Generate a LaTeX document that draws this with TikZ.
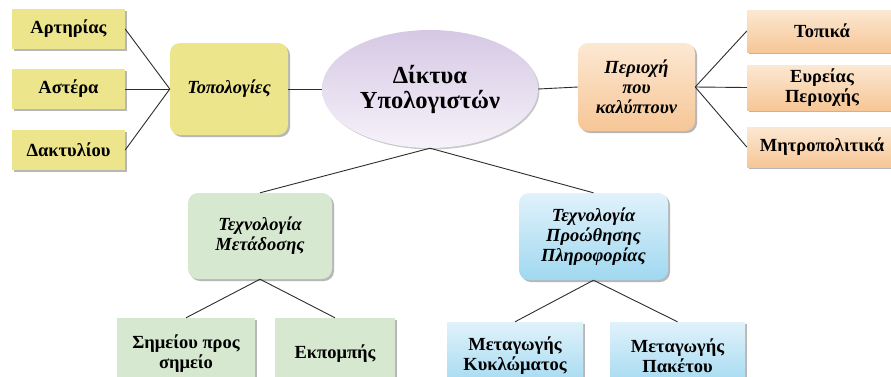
\documentclass[tikz,border=0pt]{standalone}
\usepackage{fontspec}
\setmainfont{Liberation Serif}
\usetikzlibrary{shapes.geometric,shadows}
\definecolor{yel}{RGB}{237,229,140}
\definecolor{lavtop}{RGB}{214,200,228}
\definecolor{lavbot}{RGB}{246,242,250}
\definecolor{peachtop}{RGB}{252,232,210}
\definecolor{peachbot}{RGB}{246,198,150}
\definecolor{grn}{RGB}{214,233,208}
\definecolor{bluetop}{RGB}{224,242,251}
\definecolor{bluebot}{RGB}{160,216,240}
\definecolor{linkgray}{RGB}{45,45,45}
\begin{document}
\begin{tikzpicture}[x=1pt,y=-1pt,
    box/.style={inner sep=0pt, align=center, font=\bfseries\fontsize{18.5}{20}\selectfont,
        drop shadow={shadow xshift=2pt, shadow yshift=-2pt, opacity=0.4, fill=black!70}},
    midbox/.style={box, rounded corners=10pt, font=\bfseries\itshape\fontsize{18.5}{20}\selectfont},
    link/.style={draw=linkgray, line width=0.9pt}]
    \clip (0,0) rectangle (891,376);
    \fill[white] (0,0) rectangle (891,376);

    % topologies
    \node[box, fill=yel, minimum width=113, minimum height=40] (art) at (68.5,29) {Αρτηρίας};
    \node[box, fill=yel, minimum width=113, minimum height=40] (ast) at (68.5,89) {Αστέρα};
    \node[box, fill=yel, minimum width=113, minimum height=40] (dak) at (68.5,150) {Δακτυλίου};
    \node[midbox, fill=yel, minimum width=118, minimum height=92] (topo) at (229,89) {Τοπολογίες};

    % centre
    \node[ellipse, inner sep=0pt, minimum width=216, minimum height=118, top color=lavtop, bottom color=lavbot,
        align=center, font=\bfseries\fontsize{24.5}{25}\selectfont,
        drop shadow={shadow xshift=1.5pt, shadow yshift=-1.5pt, opacity=0.3, fill=black!70}] (dikt) at (430,89) {Δίκτυα\\Υπολογιστών};

    % area
    \node[midbox, top color=peachtop, bottom color=peachbot, minimum width=117, minimum height=88] (per) at (636.5,87) {Περιοχή\\που\\καλύπτουν};
    \node[box, top color=peachtop, bottom color=peachbot, minimum width=150, minimum height=42] (top) at (822,31) {Τοπικά};
    \node[box, top color=peachtop, bottom color=peachbot, minimum width=150, minimum height=45] (eur) at (822,87.5) {Ευρείας\\Περιοχής};
    \node[box, top color=peachtop, bottom color=peachbot, minimum width=150, minimum height=40] (mit) at (822,147) {Μητροπολιτικά};

    % transmission
    \node[midbox, fill=grn, minimum width=144, minimum height=86] (tm) at (260,236) {Τεχνολογία\\Μετάδοσης};
    \node[box, fill=grn, minimum width=138, minimum height=72] (sim) at (186,354) {Σημείου προς\\σημείο};
    \node[box, fill=grn, minimum width=120, minimum height=72] (ekp) at (335,354) {Εκπομπής};

    % forwarding
    \node[midbox, top color=bluetop, bottom color=bluebot, minimum width=149, minimum height=87] (tp) at (593.5,236.5) {Τεχνολογία\\Προώθησης\\Πληροφορίας};
    \node[box, top color=bluetop, bottom color=bluebot, minimum width=136, minimum height=68] (kyk) at (515,356) {Μεταγωγής\\Κυκλώματος};
    \node[box, top color=bluetop, bottom color=bluebot, minimum width=135, minimum height=68] (pak) at (677.5,356) {Μεταγωγής\\Πακέτου};

    \draw[link] (art.east) -- (topo.west);
    \draw[link] (ast.east) -- (topo.west);
    \draw[link] (dak.east) -- (topo.west);
    \draw[link] (topo.east) -- (dikt.west);
    \draw[link] (dikt.east) -- (per.west);
    \draw[link] (per.east) -- (top.west);
    \draw[link] (per.east) -- (eur.west);
    \draw[link] (per.east) -- (mit.west);
    \draw[link] (dikt.south) -- (tm.north);
    \draw[link] (dikt.south) -- (tp.north);
    \draw[link] (tm.south) -- (sim.north);
    \draw[link] (tm.south) -- (ekp.north);
    \draw[link] (tp.south) -- (kyk.north);
    \draw[link] (tp.south) -- (pak.north);
\end{tikzpicture}
\end{document}
